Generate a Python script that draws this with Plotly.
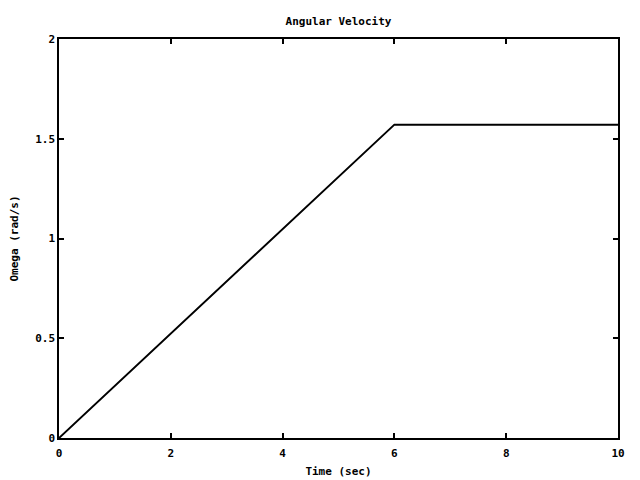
import plotly.graph_objects as go

time_sec = [0, 6, 10]
omega = [0, 1.5708, 1.5708]
x_ticks = [0, 2, 4, 6, 8, 10]
y_ticks = [0, 0.5, 1, 1.5, 2]
y_tick_labels = ["0", "0.5", "1", "1.5", "2"]

font = dict(family="DejaVu Sans Mono", size=11, color="black", weight="bold")

fig = go.Figure()
fig.add_trace(go.Scatter(x=time_sec, y=omega, mode="lines",
                         line=dict(color="black", width=2), showlegend=False))

axis_common = dict(showgrid=False, zeroline=False, showline=True, linecolor="black",
                   linewidth=1.5, mirror="ticks", ticks="inside", ticklen=5,
                   tickwidth=1.5, tickcolor="black", tickfont=font, automargin=False)

fig.update_layout(
    width=640, height=480,
    margin=dict(l=51, r=30, t=31, b=50),
    paper_bgcolor="white", plot_bgcolor="white",
    title=dict(text="Angular Velocity", x=(51 + 610) / 2 / 640, xanchor="center",
               y=1 - 13/480, yanchor="middle", font=font),
    font=font,
    xaxis=dict(range=[0, 10], tickvals=x_ticks, ticklabelstandoff=4,
               title=dict(text="Time (sec)", font=font, standoff=8), **axis_common),
    yaxis=dict(range=[0, 2], tickvals=y_ticks, ticktext=y_tick_labels,
               title=dict(text="Omega (rad/s)", font=font, standoff=15), **axis_common),
)

fig.write_html("out.html")
